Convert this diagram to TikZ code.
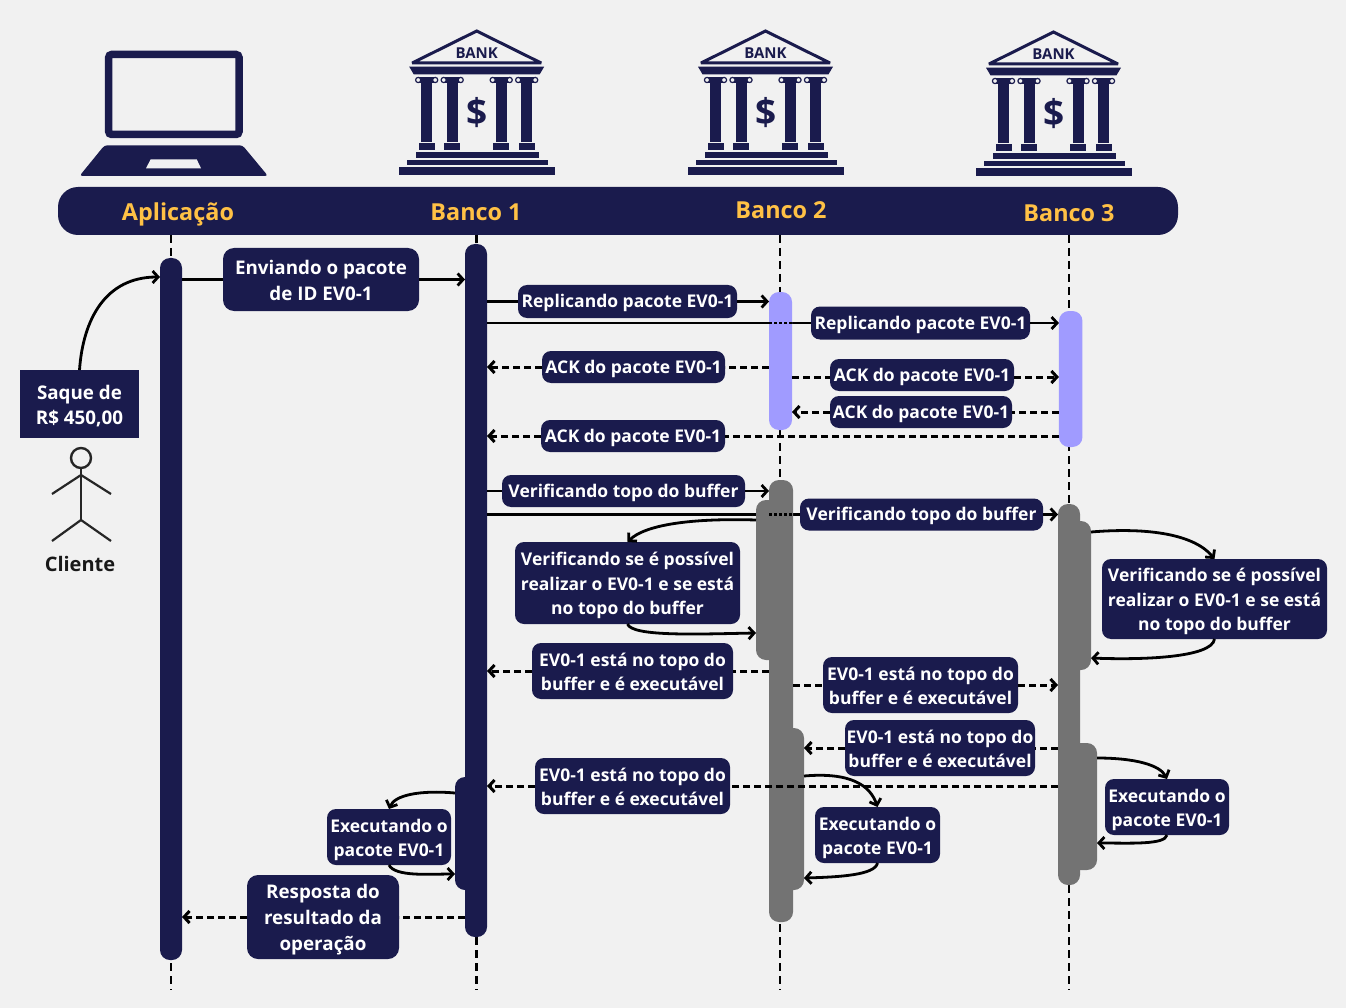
\documentclass[tikz,border=0pt]{standalone}
\usepackage{fontspec}
\setmainfont{Open Sans}
\usetikzlibrary{arrows.meta,positioning}
\definecolor{sdnavy}{RGB}{26,27,77}
\definecolor{sdpurple}{RGB}{160,155,255}
\definecolor{sdgray}{RGB}{115,115,115}
\definecolor{sdyellow}{RGB}{255,193,69}
\definecolor{sdback}{RGB}{241,241,241}
\newcommand{\lead}{\rule{0pt}{18.8pt}}
\newcommand{\leadbig}{\rule{0pt}{20pt}}
\tikzset{
  msgbox/.style={fill=sdnavy,text=white,rounded corners=9pt,align=center,inner sep=0pt,outer sep=0pt,font=\fontsize{17.5}{24.5}\selectfont\bfseries,
    execute at begin node={\rule{0pt}{17pt}},execute at end node={\rule[-4pt]{0pt}{4pt}}},
  msgbig/.style={msgbox,rounded corners=11pt,font=\fontsize{18.8}{25.8}\selectfont\bfseries},
  barbox/.style={rounded corners=10pt,inner sep=0pt,outer sep=0pt,minimum width=22pt},
  headlabel/.style={text=sdyellow,font=\fontsize{23.4}{28}\selectfont\bfseries,inner sep=0pt,text depth=5pt,text height=23pt},
  lifeline/.style={line width=2.8pt,dash pattern=on 8pt off 5pt},
  msgline/.style={line width=2.8pt},
  msgdash/.style={line width=3pt,dash pattern=on 7pt off 4pt},
  tip/.style={-{Straight Barb[length=5.5pt,width=12pt]}},
  bankicon/.pic={
    \draw[sdnavy,line width=3pt,miter limit=2] (-64.5,33) -- (0,1) -- (64.5,33) -- cycle;
    \node[text=sdnavy,font=\fontsize{15}{15}\selectfont\bfseries,inner sep=0pt] (-word) at (0,23) {BANK};
    \fill[sdnavy] (-67.5,36.7) -- (67.5,36.7) -- (63,44.3) -- (-63,44.3) -- cycle;
    \foreach \cx in {-50,-24.5,24.5,50} {
      \fill[sdnavy] (\cx-5.5,53) rectangle (\cx+5.5,111.7);
      \fill[sdnavy] (\cx-8,113) rectangle (\cx+8,120);
      \fill[sdnavy] (\cx-9,47) rectangle (\cx+9,53);
      \draw[sdnavy,fill=sdback,line width=1.2pt] (\cx-8.5,50) circle (2.6);
      \draw[sdnavy,fill=sdback,line width=1.2pt] (\cx+8.5,50) circle (2.6);
    }
    \node[text=sdnavy,font=\fontsize{37}{37}\selectfont\bfseries,inner sep=0pt] (-sign) at (0.7,83) {\$};
    \fill[sdnavy] (-61,122) rectangle (62,127.7);
    \fill[sdnavy] (-70,129.7) rectangle (71,135.3);
    \fill[sdnavy] (-77.5,137.3) rectangle (78.3,144.7);
  }
}
\begin{document}
\begin{tikzpicture}[x=1pt,y=-1pt]
  \useasboundingbox (0,0) rectangle (1346,1008);
  \fill[sdback] (0,0) rectangle (1346,1008);
  % Laptop
  \draw[sdnavy,line width=7.5pt,rounded corners=3pt] (108.7,54.5) rectangle (239,134.5);
  \fill[sdnavy,rounded corners=3pt] (104.5,145.3) -- (242.5,145.3) -- (268,176) -- (79.5,176) -- cycle;
  \fill[sdback] (150.7,159.3) -- (196.7,159.3) -- (201,168.3) -- (146,168.3) -- cycle;
  % Banks
  \pic (banka) at (476.7,30) {bankicon};
  \pic (bankb) at (765.5,30) {bankicon};
  \pic (bankc) at (1053.5,31) {bankicon};
  % Header
  \node[fill=sdnavy,rounded corners=20pt,minimum width=1120pt,minimum height=48pt,inner sep=0pt,outer sep=0pt] (header) at (618,211) {};
  \node[headlabel] (heada) at (178,212) {Aplicação};
  \node[headlabel] (headb) at (476,212) {Banco 1};
  \node[headlabel] (headc) at (781,210) {Banco 2};
  \node[headlabel] (headd) at (1069,213) {Banco 3};
  % Lifelines
  \coordinate (enda) at (171,990);
  \coordinate (endb) at (476.5,990);
  \coordinate (endc) at (780,990);
  \coordinate (endd) at (1069,990);
  \foreach \e in {enda,endb,endc,endd}
    \draw[lifeline] (\e |- header.south) -- (\e);
  % Navy bars
  \node[barbox,fill=sdnavy,minimum height=702pt] (bara) at (171,609) {};
  \node[barbox,fill=sdnavy,minimum height=693pt] (barb) at (476,590.5) {};
  \node[barbox,fill=sdnavy,minimum width=25pt,minimum height=113pt] (barbside) at (467.5,833.5) {};
  % Long messages that pass behind the bars
  \node[msgbox,minimum width=219pt,minimum height=33pt] (repb) at (920.5,323) {Replicando pacote EV0-1};
  \node[msgbox,minimum width=243pt,minimum height=32pt] (verb) at (921.5,514.5) {Verificando topo do buffer};
  \draw[msgline] (barb.east |- repb.west) -- (repb.west);
  \draw[msgline] (barb.east |- verb.west) -- (verb.west);
  % Replication bars
  \node[barbox,fill=sdpurple,minimum width=23pt,minimum height=138pt] (purpc) at (780.5,361) {};
  \node[barbox,fill=sdpurple,minimum width=23.5pt,minimum height=136pt] (purpd) at (1070.7,379) {};
  % Gray bars
  \node[barbox,fill=sdgray,minimum width=24pt,minimum height=442pt] (grayc) at (781,701) {};
  \node[barbox,fill=sdgray,minimum width=34pt,minimum height=160pt] (graycl) at (773,580) {};
  \node[barbox,fill=sdgray,minimum width=29pt,minimum height=162pt] (graycr) at (789.5,809) {};
  \node[barbox,fill=sdgray,minimum height=381pt] (grayd) at (1069,694.5) {};
  \node[barbox,fill=sdgray,minimum width=31pt,minimum height=149pt] (graydu) at (1075.5,595.5) {};
  \node[barbox,fill=sdgray,minimum width=37pt,minimum height=127pt] (graydl) at (1078.5,806.5) {};
  \draw[line width=2.4pt,dash pattern=on 3pt off 2pt] (purpc.west |- repb.west) -- (purpc.east |- repb.west);
  \draw[line width=2.4pt,dash pattern=on 3pt off 2pt] (grayc.west |- verb.west) -- (grayc.east |- verb.west);
  % Client
  \node[draw=black!85,line width=2.4pt,circle,minimum size=20pt,inner sep=0pt] (head) at (81,458) {};
  \coordinate (hip) at (81,520);
  \coordinate (neck) at (81,475);
  \draw[black!85,line width=2.2pt] (head.south) -- (hip);
  \draw[black!85,line width=2.2pt] (52,494) -- (neck) -- (111,494);
  \draw[black!85,line width=2.2pt] (52,541) -- (hip) -- (111,541);
  \node[font=\fontsize{20}{24}\selectfont\bfseries,text=black!90,inner sep=0pt] (client) at (80,564) {Cliente};
  \node[msgbig,rounded corners=0pt,minimum width=119pt,minimum height=68pt] (saque) at (79.5,404) {\leadbig Saque de\\R\$ 450,00};
  \draw[msgline,tip] (saque.north) .. controls (83,320) and (105,277) .. (bara.west |- 0,277);
  % Request
  \node[msgbig,minimum width=196pt,minimum height=63pt] (envia) at (321,279.5) {\leadbig Enviando o pacote\\de ID EV0-1};
  \draw[msgline] (bara.east |- envia.west) -- (envia.west);
  \draw[msgline,tip] (envia.east) -- (barb.west |- envia.east);
  % Replication
  \node[msgbox,minimum width=219pt,minimum height=33pt] (repa) at (627.5,301.5) {Replicando pacote EV0-1};
  \draw[msgline] (barb.east |- repa.west) -- (repa.west);
  \draw[msgline,tip] (repa.east) -- (purpc.west |- repa.east);
  \draw[msgline,tip] (repb.east) -- (purpd.west |- repb.east);
  % ACK
  \node[msgbox,minimum width=183pt,minimum height=32pt] (acka) at (633.5,367) {ACK do pacote EV0-1};
  \node[msgbox,minimum width=184pt,minimum height=32pt] (ackb) at (922,375) {ACK do pacote EV0-1};
  \node[msgbox,minimum width=182pt,minimum height=32pt] (ackc) at (921,412) {ACK do pacote EV0-1};
  \node[msgbox,minimum width=184pt,minimum height=32pt] (ackd) at (633,436) {ACK do pacote EV0-1};
  \draw[msgdash] (purpc.west |- acka.east) -- (acka.east);
  \draw[msgdash,tip] (acka.west) -- (barb.east |- acka.west);
  \draw[msgdash] (purpc.east |- 0,377) -- (ackb.west |- 0,377);
  \draw[msgdash,tip] (ackb.east |- 0,377) -- (purpd.west |- 0,377);
  \draw[msgdash] (purpd.west |- ackc.east) -- (ackc.east);
  \draw[msgdash,tip] (ackc.west) -- (purpc.east |- ackc.west);
  \draw[msgdash] (purpd.west |- ackd.east) -- (ackd.east);
  \draw[msgdash,tip] (ackd.west) -- (barb.east |- ackd.west);
  % Buffer check
  \node[msgbox,minimum width=243pt,minimum height=32pt] (vera) at (623.5,491) {Verificando topo do buffer};
  \draw[msgline] (barb.east |- vera.west) -- (vera.west);
  \draw[msgline,tip] (vera.east) -- (grayc.west |- vera.east);
  \draw[msgline,tip] (verb.east) -- (grayd.west |- verb.east);
  \node[msgbox,minimum width=225pt,minimum height=82pt] (possa) at (627.5,583) {\lead Verificando se é possível\\realizar o EV0-1 e se está\\no topo do buffer};
  \node[msgbox,minimum width=225pt,minimum height=80pt] (possb) at (1214.5,599) {\lead Verificando se é possível\\realizar o EV0-1 e se está\\no topo do buffer};
  \draw[msgline,tip] (graycl.west |- 0,520) .. controls (690,518) and (645,525) .. (possa.north);
  \draw[msgline,tip] (possa.south) .. controls (632,637) and (700,634) .. (graycl.west |- 0,633);
  \draw[msgline,tip] (graydu.east |- 0,532) .. controls (1150,527) and (1195,535) .. (possb.north);
  \draw[msgline,tip] (possb.south) .. controls (1212,658) and (1140,660) .. (graydu.east |- 0,658);
  % Buffer answers
  \node[msgbox,minimum width=201pt,minimum height=56pt] (topa) at (632.5,671) {\lead EV0-1 está no topo do\\buffer e é executável};
  \node[msgbox,minimum width=195pt,minimum height=56pt] (topb) at (920.5,685) {\lead EV0-1 está no topo do\\buffer e é executável};
  \node[msgbox,minimum width=190pt,minimum height=56pt] (topc) at (940,748) {\lead EV0-1 está no topo do\\buffer e é executável};
  \node[msgbox,minimum width=195pt,minimum height=56pt] (topd) at (632.5,786) {\lead EV0-1 está no topo do\\buffer e é executável};
  \draw[msgdash] (grayc.west |- topa.east) -- (topa.east);
  \draw[msgdash,tip] (topa.west) -- (barb.east |- topa.west);
  \draw[msgdash] (grayc.east |- topb.west) -- (topb.west);
  \draw[msgdash,tip] (topb.east) -- (grayd.west |- topb.east);
  \draw[msgdash] (grayd.west |- topc.east) -- (topc.east);
  \draw[msgdash,tip] (topc.west) -- (graycr.east |- topc.west);
  \draw[msgdash] (grayd.west |- topd.east) -- (topd.east);
  \draw[msgdash,tip] (topd.west) -- (barb.east |- topd.west);
  % Execution
  \node[msgbox,minimum width=124pt,minimum height=56pt] (exea) at (389,837) {\lead Executando o\\pacote EV0-1};
  \node[msgbox,minimum width=125pt,minimum height=56pt] (exeb) at (877.5,835) {\lead Executando o\\pacote EV0-1};
  \node[msgbox,minimum width=124pt,minimum height=56pt] (exec) at (1167,807) {\lead Executando o\\pacote EV0-1};
  \draw[msgline,tip] (barbside.west |- 0,793) .. controls (420,790) and (395,795) .. (exea.north);
  \draw[msgline,tip] (exea.south) .. controls (395,877) and (430,874) .. (barbside.west |- 0,874);
  \draw[msgline,tip] (graycr.east |- 0,776) .. controls (850,772) and (870,785) .. (exeb.north);
  \draw[msgline,tip] (exeb.south) .. controls (875,875) and (840,877) .. (graycr.east |- 0,878);
  \draw[msgline,tip] (graydl.east |- 0,758) .. controls (1135,758) and (1160,765) .. (exec.north);
  \draw[msgline,tip] (exec.south) .. controls (1165,845) and (1130,843) .. (graydl.east |- 0,843);
  % Response
  \node[msgbig,minimum width=152pt,minimum height=84pt] (resp) at (323,917) {\leadbig Resposta do\\resultado da\\operação};
  \draw[msgdash] (barb.west |- resp.east) -- (resp.east);
  \draw[msgdash,tip] (resp.west) -- (bara.east |- resp.west);
\end{tikzpicture}
\end{document}
